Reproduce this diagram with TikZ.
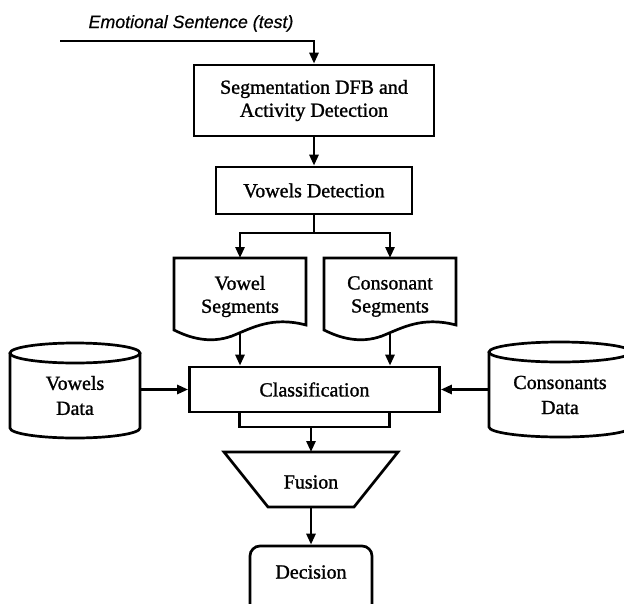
\documentclass[tikz,border=0pt]{standalone}
\usepackage{fontspec}
\setmainfont{Liberation Serif}
\newfontfamily\boxfont[FakeBold=1.2]{Liberation Serif}
\newfontfamily\titlefont[FakeBold=0.6]{Liberation Sans}
\usetikzlibrary{arrows.meta}
\begin{document}
\begin{tikzpicture}[x=1pt,y=-1pt, line width=2.7pt,
  >={Triangle[length=11pt,width=9pt]},
  box/.style={draw, rectangle, inner sep=0pt, align=center, font=\boxfont\fontsize{20}{23}\selectfont},
  lbl/.style={align=center, inner sep=0pt, font=\boxfont\fontsize{20}{23}\selectfont},
  dlbl/.style={align=center, inner sep=0pt, font=\boxfont\fontsize{20}{25}\selectfont}]
\useasboundingbox (0,0) rectangle (624,603);
\clip (0,0) rectangle (624,603);

% title and input
\node[anchor=base, inner sep=0pt, font=\titlefont\itshape\fontsize{17.8}{20}\selectfont] (title) at (191,28) {Emotional Sentence (test)};
\coordinate (in) at (60,41);
\node[box, minimum width=240pt, minimum height=71pt] (seg) at (314,100.5) {Segmentation DFB and\\Activity Detection};
\draw[->] (in) -| (seg.north);

\node[box, minimum width=196pt, minimum height=47pt] (vd) at (314,190.5) {Vowels Detection};
\draw[->] (seg.south) -- (vd.north);

% split
\coordinate (split) at (314,233);
\coordinate (vtop) at (240,258);
\coordinate (ctop) at (390,258);
\draw (vd.south) -- (split);
\draw[->] (split) -| (vtop);
\draw[->] (split) -| (ctop);

% documents
\draw (174,258) -- (306,258) -- (306,325) .. controls (272,316) and (252,328) .. (232,336) .. controls (210,344) and (190,338) .. (174,330) -- cycle;
\draw (324,258) -- (456,258) -- (456,325) .. controls (422,316) and (402,328) .. (382,336) .. controls (360,344) and (340,338) .. (324,330) -- cycle;
\node[lbl] (vdoc) at (240,296.5) {Vowel\\Segments};
\node[lbl] (cdoc) at (390,296.5) {Consonant\\Segments};
\coordinate (vbot) at (240,334);
\coordinate (cbot) at (390,334);

% classification
\node[box, minimum width=250pt, minimum height=45pt] (cls) at (314.5,389.5) {Classification};
\node[draw, rectangle, inner sep=0pt, minimum width=150pt, minimum height=15pt] (clsout) at (314.5,419.5) {};
\draw[->] (vbot) -- (vbot |- cls.north);
\draw[->] (cbot) -- (cbot |- cls.north);

% databases
\draw (10,353) -- (10,428) arc[start angle=180, end angle=360, x radius=65pt, y radius=10pt] -- (140,353);
\draw (75,353) ellipse [x radius=65pt, y radius=10pt];
\node[dlbl] (vdata) at (75,395.5) {Vowels\\Data};
\coordinate (vdr) at (140,389.5);
\draw[->] (vdr) -- (cls.west);

\draw (489,352) -- (489,427) arc[start angle=180, end angle=360, x radius=71pt, y radius=10pt] -- (631,352);
\draw (560,352) ellipse [x radius=71pt, y radius=10pt];
\node[dlbl] (cdata) at (560,395) {Consonants\\Data};
\coordinate (cdl) at (489,389.5);
\draw[->] (cdl) -- (cls.east);

% fusion
\draw (224,452) -- (398,452) -- (354,507) -- (268,507) -- cycle;
\node[lbl] (fusion) at (311,482) {Fusion};
\coordinate (ftop) at (311,452);
\coordinate (fbot) at (311,507);
\draw[->] (clsout.south -| ftop) -- (ftop);

% decision
\node[draw, rectangle, rounded corners=10pt, minimum width=122pt, minimum height=70pt] (dec) at (311,581) {};
\node[lbl] (dectxt) at (311,572) {Decision};
\draw[->] (fbot) -- (dec.north);
\end{tikzpicture}
\end{document}
